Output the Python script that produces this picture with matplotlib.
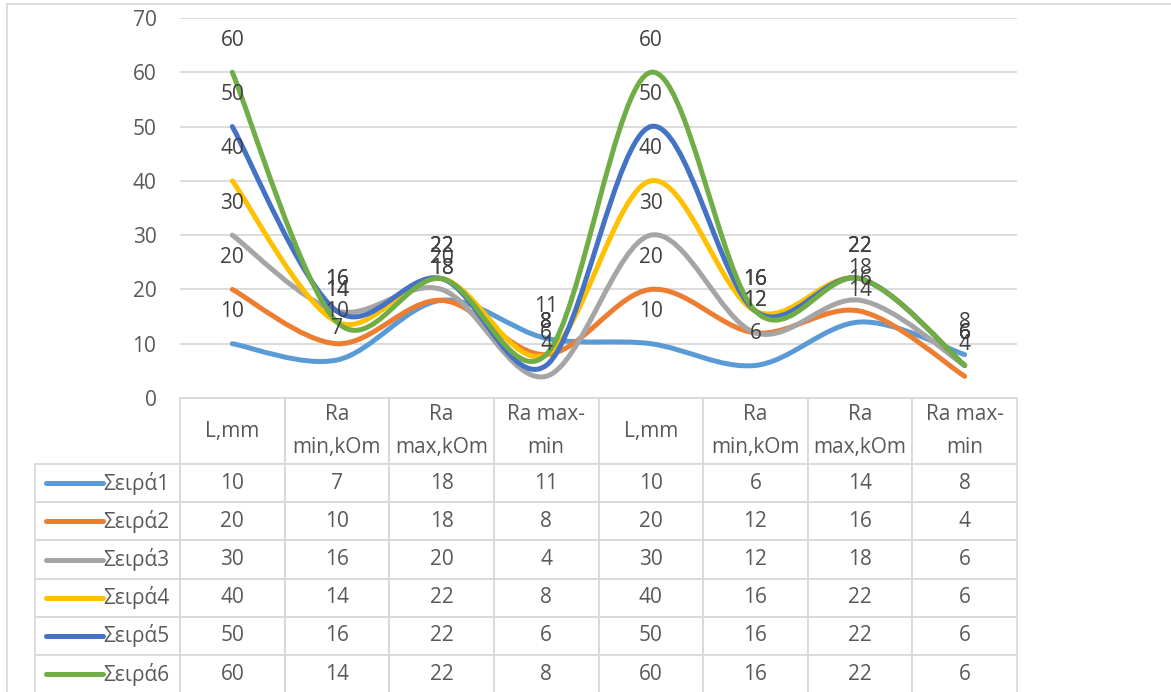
import matplotlib.pyplot as plt
from matplotlib.path import Path
from matplotlib.patches import PathPatch, Rectangle

plt.rcParams['font.family'] = ['Open Sans', 'DejaVu Sans']

categories = ['L,mm', 'Ra\nmin,kOm', 'Ra\nmax,kOm', 'Ra max-\nmin',
              'L,mm', 'Ra\nmin,kOm', 'Ra\nmax,kOm', 'Ra max-\nmin']
series_names = ['Σειρά1', 'Σειρά2', 'Σειρά3', 'Σειρά4', 'Σειρά5', 'Σειρά6']
s1 = [10, 7, 18, 11, 10, 6, 14, 8]
s2 = [20, 10, 18, 8, 20, 12, 16, 4]
s3 = [30, 16, 20, 4, 30, 12, 18, 6]
s4 = [40, 14, 22, 8, 40, 16, 22, 6]
s5 = [50, 16, 22, 6, 50, 16, 22, 6]
s6 = [60, 14, 22, 8, 60, 16, 22, 6]
series = [s1, s2, s3, s4, s5, s6]
colors = ['#5B9BD5', '#ED7D31', '#A5A5A5', '#FFC000', '#4472C4', '#70AD47']

grid_c = '#D9D9D9'
text_c = '#595959'
fs = 15


def smooth_path(xs, ys):
    # Bezier segments like Excel's "smoothed line"
    n = len(xs)
    pts = list(zip(xs, ys))
    verts = [pts[0]]
    codes = [Path.MOVETO]
    for i in range(n - 1):
        p0 = pts[max(i - 1, 0)]
        p1 = pts[i]
        p2 = pts[i + 1]
        p3 = pts[min(i + 2, n - 1)]
        c1 = (p1[0] + (p2[0] - p0[0]) / 6, p1[1] + (p2[1] - p0[1]) / 6)
        c2 = (p2[0] - (p3[0] - p1[0]) / 6, p2[1] - (p3[1] - p1[1]) / 6)
        verts += [c1, c2, p2]
        codes += [Path.CURVE4] * 3
    return Path(verts, codes)


fig = plt.figure(figsize=(11.71, 6.92), dpi=100)
ax = fig.add_axes([180 / 1171, 1 - 398 / 692, 837 / 1171, 380 / 692])

x = list(range(len(categories)))
for vals, c in zip(series, colors):
    patch = PathPatch(smooth_path(x, vals), facecolor='none', edgecolor=c,
                      lw=3.6, capstyle='round', joinstyle='round', zorder=3)
    ax.add_patch(patch)

for vals in series:
    for i, v in enumerate(vals):
        ax.annotate(str(v), (i, v), xytext=(0, 23), textcoords='offset points',
                    ha='center', va='center', fontsize=fs, color='#404040',
                    zorder=5)

ax.set_xlim(-0.5, 7.5)
ax.set_ylim(0, 70)
ax.set_yticks(range(0, 71, 10))
ax.set_xticks([])
ax.tick_params(axis='y', length=0, pad=17, labelsize=fs, labelcolor=text_c)
ax.grid(axis='y', color=grid_c, lw=1.3)
ax.set_axisbelow(True)
for sp in ax.spines.values():
    sp.set_visible(False)

# data table under the plot, sizes in axes fractions
cell_text = [[str(v) for v in vals] for vals in series]
ax_w, ax_h = 837, 380
head_h = 66 / ax_h
row_h = 38.2 / ax_h
lab_w = 145 / ax_w
col_w = 1 / len(categories)
tab_h = head_h + row_h * len(series)
tbl = ax.table(cellText=cell_text, colLabels=categories,
               cellLoc='center', colLoc='center',
               bbox=[0, -tab_h, 1, tab_h])
# row-label column with the series names
for k, name in enumerate(series_names):
    tbl.add_cell(k + 1, -1, lab_w, row_h, text=name, loc='right')
tbl.auto_set_font_size(False)
tbl.set_fontsize(fs)
for (r, c), cell in tbl.get_celld().items():
    cell.set_edgecolor(grid_c)
    cell.set_linewidth(1.3)
    cell.get_text().set_color(text_c)
    cell.set_height(head_h if r == 0 else row_h)
    cell.set_width(lab_w if c == -1 else col_w)
    if c == -1:
        cell.PAD = 0.07
    if r == 0:
        cell.get_text().set_multialignment('center')
        cell.get_text().set_linespacing(1.7)

# legend keys in the row labels
for k, c in enumerate(colors):
    yk = -(head_h + row_h * (k + 0.5))
    ax.plot([(46 - 180) / ax_w, (103 - 180) / ax_w], [yk, yk], color=c, lw=3.6,
            solid_capstyle='round', transform=ax.transAxes, clip_on=False)

# chart area border
fig.add_artist(Rectangle((7 / 1171, -0.1), 1.5, 0.1 + 1 - 4 / 692,
                         transform=fig.transFigure, fill=False,
                         edgecolor=grid_c, lw=1.3))

fig.savefig('out.png', dpi=100)
